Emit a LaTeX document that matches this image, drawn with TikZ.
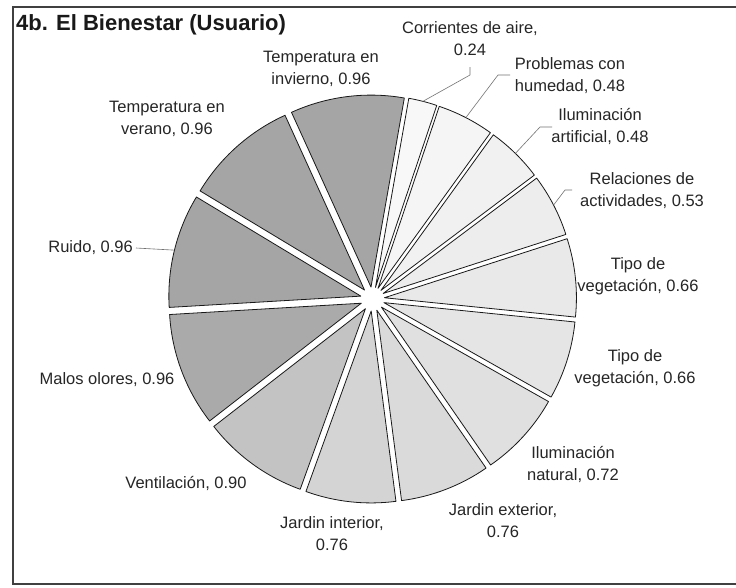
\documentclass[tikz,border=0pt]{standalone}
\usepackage{fontspec}
\setmainfont{Liberation Sans}
\begin{document}
\begin{tikzpicture}[x=1pt,y=-1pt,
  lbl/.style={font=\fontsize{16.5}{22}\selectfont, text=black!85, align=center, inner sep=0pt},
  slice/.style={draw=black!90, line width=0.8pt, line join=round},
  leader/.style={draw=black!55, line width=0.6pt}]
\useasboundingbox (0,0) rectangle (736,587);
\fill[white] (0,0) rectangle (736,587);
% frame
\draw[black!75, line width=1.1pt] (740,7) -- (13,7) -- (13,584) -- (740,584);
% title
\node[anchor=base west, inner sep=0pt, font=\fontsize{22}{26}\selectfont\bfseries, text=black!90] (title) at (16,30) {4b. El Bienestar (Usuario)};
% pie
\def\R{192}
\def\d{12}
\begin{scope}[shift={(372.5,299)}, yscale=-1]
  \definecolor{c1}{HTML}{F8F8F8}
  \definecolor{c2}{HTML}{F5F5F5}
  \definecolor{c3}{HTML}{F1F1F1}
  \definecolor{c4}{HTML}{EDEDED}
  \definecolor{c5}{HTML}{E9E9E9}
  \definecolor{c6}{HTML}{E5E5E5}
  \definecolor{c7}{HTML}{E0E0E0}
  \definecolor{c8}{HTML}{DADADA}
  \definecolor{c9}{HTML}{D4D4D4}
  \definecolor{c10}{HTML}{C3C3C3}
  \definecolor{c11}{HTML}{AAAAAA}
  \definecolor{c12}{HTML}{A5A5A5}
  \foreach \a/\b/\c in {80/71.386/c1, 71.386/54.158/c2, 54.158/36.930/c3, 36.930/17.907/c4,
      17.907/-5.782/c5, -5.782/-29.471/c6, -29.471/-55.313/c7, -55.313/-82.591/c8,
      -82.591/-109.869/c9, -109.869/-142.172/c10, -142.172/-176.628/c11,
      -176.628/-211.084/c12, -211.084/-245.540/c12, -245.540/-280/c12}{
    \pgfmathsetmacro{\m}{(\a+\b)/2}
    \draw[slice, fill=\c] (\m:\d) -- ++(\a:\R) arc[start angle=\a, end angle=\b, radius=\R] -- cycle;
  }
  \coordinate (pCor) at (75.69:204);
  \coordinate (pPro) at (62.77:204);
  \coordinate (pIlu) at (45.54:204);
  \coordinate (pRel) at (27.42:204);
  \coordinate (pRui) at (-193.86:204);
\end{scope}
% labels
\node[lbl] (lCor) at (470,39) {Corrientes de aire,\\0.24};
\node[lbl] (lPro) at (570,76) {Problemas con\\humedad, 0.48};
\node[lbl] (lIlu) at (600,126) {Iluminación\\artificial, 0.48};
\node[lbl] (lRel) at (642,191) {Relaciones de\\actividades, 0.53};
\node[lbl] (lTi1) at (638,276) {Tipo de\\vegetación, 0.66};
\node[lbl] (lTi2) at (635,368) {Tipo de\\vegetación, 0.66};
\node[lbl] (lIln) at (573,464) {Iluminación\\natural, 0.72};
\node[lbl] (lJex) at (503,521) {Jardin exterior,\\0.76};
\node[lbl] (lJin) at (332,534) {Jardin interior,\\0.76};
\node[lbl] (lVen) at (186,483) {Ventilación, 0.90};
\node[lbl] (lMal) at (107,380) {Malos olores, 0.96};
\node[lbl, anchor=east] (lRui) at (133,248) {Ruido, 0.96};
\node[lbl] (lVer) at (167,119) {Temperatura en\\verano, 0.96};
\node[lbl] (lInv) at (321,69) {Temperatura en\\invierno, 0.96};
% leader lines
\coordinate (eCor) at (470,67);
\coordinate (kCor) at (470,75);
\coordinate (ePro) at (510,75);
\coordinate (kPro) at (498,75);
\coordinate (eIlu) at (552,127);
\coordinate (kIlu) at (540,127);
\coordinate (eRel) at (572,190);
\coordinate (kRel) at (565,190);
\draw[leader] (eCor) -- (kCor) -- (pCor);
\draw[leader] (ePro) -- (kPro) -- (pPro);
\draw[leader] (eIlu) -- (kIlu) -- (pIlu);
\draw[leader] (eRel) -- (kRel) -- (pRel);
\draw[leader] (lRui.east) ++(3,0) coordinate (eRui) -- (pRui);
\end{tikzpicture}
\end{document}
